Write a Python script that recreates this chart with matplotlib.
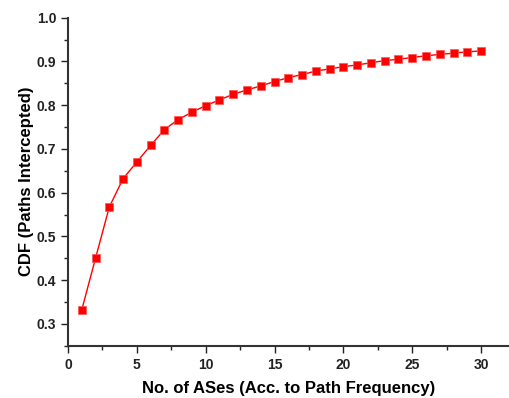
import matplotlib.pyplot as plt
from matplotlib.ticker import MultipleLocator

# number of ASes vs. cumulative fraction of paths intercepted
num_ases = list(range(1, 31))
cdf = [0.332, 0.450, 0.567, 0.632, 0.670, 0.708, 0.744, 0.767, 0.784, 0.799,
       0.812, 0.825, 0.835, 0.844, 0.854, 0.863, 0.870, 0.878, 0.883, 0.888,
       0.892, 0.897, 0.902, 0.905, 0.909, 0.913, 0.916, 0.919, 0.922, 0.924]

plt.rcParams['font.family'] = ['Liberation Sans', 'DejaVu Sans']
plt.rcParams['font.weight'] = 'bold'

fig = plt.figure(figsize=(5.1, 3.98), dpi=100)
ax = fig.add_axes([0.1333, 0.1314, 0.8667, 0.8241])

ax.plot(num_ases, cdf, color='red', linewidth=1, marker='s', markersize=6,
        markeredgecolor='#ff5555', markeredgewidth=0.5, markerfacecolor='red')

ax.set_xlim(0, 32.1)
ax.set_ylim(0.25, 1.0)
ax.xaxis.set_major_locator(MultipleLocator(5))
ax.xaxis.set_minor_locator(MultipleLocator(2.5))
ax.yaxis.set_major_locator(MultipleLocator(0.1))
ax.yaxis.set_minor_locator(MultipleLocator(0.05))

for side in ['top', 'right']:
    ax.spines[side].set_visible(False)
for side in ['left', 'bottom']:
    ax.spines[side].set_color('#333333')
    ax.spines[side].set_linewidth(1.5)

ax.tick_params(which='major', direction='out', length=5, width=1, colors='#222222', labelsize=10)
ax.tick_params(which='minor', direction='out', length=3, width=1, colors='#222222')
ax.set_yticks([0.3, 0.4, 0.5, 0.6, 0.7, 0.8, 0.9, 1.0])
ax.set_yticklabels(["0.3", "0.4", "0.5", "0.6", "0.7", "0.8", "0.9", "1.0"], fontweight='bold')
for lbl in ax.get_xticklabels():
    lbl.set_fontweight('bold')

ax.set_xlabel("No. of ASes (Acc. to Path Frequency)", fontsize=12, fontweight='bold', labelpad=7)
ax.set_ylabel("CDF (Paths Intercepted)", fontsize=12, fontweight='bold', labelpad=2)

fig.savefig('out.png', dpi=100)
